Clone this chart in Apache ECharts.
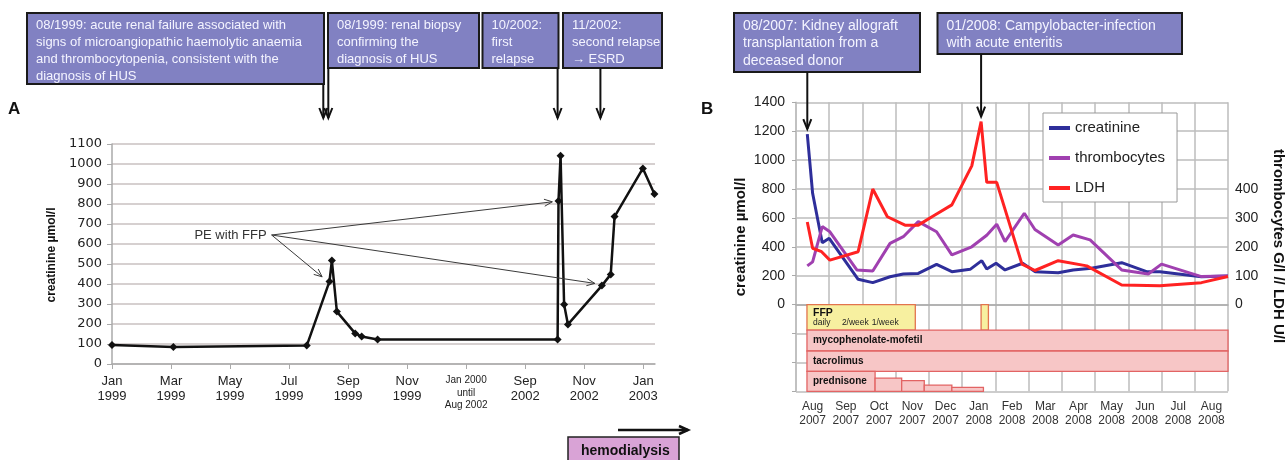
<!DOCTYPE html>
<html><head><meta charset="utf-8">
<script src="https://cdn.jsdelivr.net/npm/echarts@6/dist/echarts.min.js"></script>
<style>html,body{margin:0;padding:0;background:#fff}#c{width:1287px;height:460px}</style>
</head><body><div id="c"></div>
<script>
// ---------- Panel A data (x = months since Jan 1999, compressed gap Jan 2000 - Aug 2002) ----------
const aTickValues = [0, 2, 4, 6, 8, 10, 12, 14, 16, 18];
const aTickLabels = ['Jan\n1999', 'Mar\n1999', 'May\n1999', 'Jul\n1999', 'Sep\n1999', 'Nov\n1999', 'GAP', 'Sep\n2002', 'Nov\n2002', 'Jan\n2003'];
const aGapLabel = ['Jan 2000', 'until', 'Aug 2002'];
const aMonth = [0, 2.08, 6.6, 7.37, 7.45, 7.62, 8.24, 8.46, 9.0, 15.1, 15.13, 15.2, 15.32, 15.45, 16.6, 16.9, 17.03, 17.99, 18.38];
const aCreatinine = [95, 85, 92, 413, 517, 262, 153, 137, 123, 123, 815, 1041, 297, 198, 392, 448, 737, 978, 850];
const aEventMonths = [7.16, 7.33, 15.1, 16.55];
const aPeFrom = [5.41, 645];
const aPeTargets = [[7.12, 436], [14.92, 811], [16.36, 403]];

// ---------- Panel B data (x = months since start of Aug 2007) ----------
const bCategories = ['Aug\n2007', 'Sep\n2007', 'Oct\n2007', 'Nov\n2007', 'Dec\n2007', 'Jan\n2008', 'Feb\n2008', 'Mar\n2008', 'Apr\n2008', 'May\n2008', 'Jun\n2008', 'Jul\n2008', 'Aug\n2008'];
const creaX = [0.34, 0.5, 0.79, 1.0, 1.87, 2.31, 2.83, 3.23, 3.68, 4.23, 4.69, 5.24, 5.59, 5.74, 6.02, 6.29, 6.82, 7.2, 7.89, 8.34, 8.89, 9.8, 10.55, 10.95, 12.2, 13.0];
const creaV = [1180, 770, 428, 459, 175, 152, 193, 212, 216, 279, 228, 244, 304, 246, 286, 240, 286, 228, 221, 240, 251, 290, 228, 228, 193, 198];
const thrX = [0.34, 0.5, 0.79, 1.02, 1.83, 2.31, 2.83, 3.23, 3.68, 4.23, 4.69, 5.29, 5.74, 6.04, 6.29, 6.87, 7.19, 7.89, 8.34, 8.85, 9.8, 10.6, 11.0, 12.2, 13.0];
const thrV = [134, 148, 270, 252, 120, 116, 212, 235, 287, 252, 172, 200, 240, 278, 218, 316, 260, 206, 241, 224, 120, 106, 140, 97, 99];
const ldhX = [0.34, 0.5, 0.77, 1.02, 1.87, 2.31, 2.75, 3.28, 3.68, 4.18, 4.69, 5.29, 5.57, 5.74, 6.04, 6.8, 7.19, 7.89, 8.75, 9.8, 10.95, 12.2, 13.0];
const ldhV = [286, 195, 183, 154, 183, 400, 304, 275, 275, 310, 345, 480, 633, 423, 423, 140, 118, 152, 134, 68, 65, 76, 97];
const bEventSeries = [1, 3];          // series pointed by the two callouts
const bEventIndex = [0, 12];

// treatments: start month, end month, row, dose level (fraction of row height)
const treatName  = ['FFP', '', 'mycophenolate-mofetil', 'tacrolimus', 'prednisone', '', '', '', ''];
const treatStart = [0.33, 5.57, 0.33, 0.33, 0.33, 2.38, 3.18, 3.86, 4.69];
const treatEnd   = [3.59, 5.79, 13.0, 13.0, 2.38, 3.18, 3.86, 4.69, 5.64];
const treatRow   = [0, 0, 1, 2, 3, 3, 3, 3, 3];
const treatLevel = [1, 1, 1, 1, 1, 0.66, 0.54, 0.31, 0.2];
const ffpSchedule = ['daily', '2/week', '1/week'];
const ffpScheduleStart = [0.33, 1.2, 2.1];

const ROW_TOP = [0, -176, -321, -462];
const ROW_BOT = [-176, -321, -462, -600];

const SANS = '"Liberation Sans", Arial, sans-serif';
const chart = echarts.init(document.getElementById('c'), null, {renderer: 'canvas'});

const option = {
  animation: false,
  backgroundColor: '#fff',
  grid: [
    {left: 112, top: 144, width: 543, height: 220},
    {left: 796, top: 102.3, width: 432, height: 289}
  ],
  legend: {
    data: ['creatinine', 'thrombocytes', 'LDH'],
    orient: 'vertical', left: 1043, top: 113,
    padding: [7, 12, 6, 6], itemGap: 14, itemWidth: 21, itemHeight: 4, icon: 'rect',
    backgroundColor: '#fff', borderColor: '#999', borderWidth: 1,
    textStyle: {fontSize: 15, fontFamily: SANS, color: '#222', lineHeight: 16}
  },
  xAxis: [
    {
      type: 'value', gridIndex: 0, min: 0, max: 18.4, interval: 2,
      axisLine: {lineStyle: {color: '#aaa', width: 1.5}},
      axisTick: {show: true, length: 5, lineStyle: {color: '#aaa'}, customValues: aTickValues},
      splitLine: {show: false},
      axisLabel: {
        customValues: aTickValues, margin: 10, color: '#222', fontFamily: SANS, fontSize: 13, lineHeight: 15,
        formatter: function (v) {
          const i = aTickValues.indexOf(Math.round(v));
          if (i < 0) return '';
          if (aTickLabels[i] === 'GAP') return aGapLabel.map(s => '{g|' + s + '}').join('\n');
          return aTickLabels[i];
        },
        rich: {g: {fontSize: 10, lineHeight: 12.5, fontFamily: SANS, color: '#222'}}
      }
    },
    {
      type: 'category', gridIndex: 1, data: bCategories, boundaryGap: true,
      axisLine: {lineStyle: {color: '#aaa', width: 1.5}},
      axisTick: {show: false},
      splitLine: {show: true, interval: 0, lineStyle: {color: '#bdbdbd', width: 1.5}},
      axisLabel: {interval: 0, margin: 8, color: '#333', fontFamily: SANS, fontSize: 12, lineHeight: 14.5}
    },
    {type: 'value', gridIndex: 1, min: 0, max: 13, show: false}
  ],
  yAxis: [
    {
      type: 'value', gridIndex: 0, min: 0, max: 1100, interval: 100,
      axisLine: {show: true, lineStyle: {color: '#aaa', width: 1.5}},
      axisTick: {show: true, length: 5, lineStyle: {color: '#aaa'}},
      splitLine: {lineStyle: {color: '#c8c0c0', width: 1.5}},
      axisLabel: {margin: 10, color: '#222', fontFamily: '"DejaVu Sans", Verdana, sans-serif', fontSize: 13,
        formatter: v => String(v)}
    },
    {
      type: 'value', gridIndex: 1, position: 'left', min: -600, max: 1400, interval: 200,
      axisLine: {show: true, lineStyle: {color: '#bdbdbd', width: 1.5}},
      axisTick: {show: true, length: 4, lineStyle: {color: '#aaa'}},
      splitLine: {lineStyle: {color: '#bdbdbd', width: 1.5}},
      axisLabel: {margin: 11, color: '#222', fontFamily: SANS, fontSize: 14,
        formatter: v => (v >= 0 ? String(v) : '')}
    },
    {
      type: 'value', gridIndex: 1, position: 'right', min: -300, max: 700, interval: 100,
      axisLine: {show: false}, axisTick: {show: false}, splitLine: {show: false},
      axisLabel: {margin: 7, color: '#222', fontFamily: SANS, fontSize: 14,
        formatter: v => (v >= 0 && v <= 400 ? String(v) : '')}
    }
  ],
  series: [
    {
      name: 'creatinine (A)', type: 'line', xAxisIndex: 0, yAxisIndex: 0,
      data: aMonth.map((m, i) => [m, aCreatinine[i]]),
      symbol: 'diamond', symbolSize: 8, showSymbol: true,
      itemStyle: {color: '#111'}, lineStyle: {color: '#111', width: 2.5}, z: 5
    },
    {
      name: 'creatinine', type: 'line', xAxisIndex: 2, yAxisIndex: 1,
      data: creaX.map((m, i) => [m, creaV[i]]), showSymbol: false, symbol: 'none',
      itemStyle: {color: '#2e2e9a'}, lineStyle: {color: '#2e2e9a', width: 3}, z: 5
    },
    {
      name: 'thrombocytes', type: 'line', xAxisIndex: 2, yAxisIndex: 2,
      data: thrX.map((m, i) => [m, thrV[i]]), showSymbol: false, symbol: 'none',
      itemStyle: {color: '#a040b0'}, lineStyle: {color: '#a040b0', width: 3}, z: 5
    },
    {
      name: 'LDH', type: 'line', xAxisIndex: 2, yAxisIndex: 2,
      data: ldhX.map((m, i) => [m, ldhV[i]]), showSymbol: false, symbol: 'none',
      itemStyle: {color: '#ff2222'}, lineStyle: {color: '#ff2222', width: 3}, z: 6
    },
    {
      name: 'treatments', type: 'custom', xAxisIndex: 2, yAxisIndex: 1, z: 4,
      data: treatStart.map((s, i) => [s, treatEnd[i], treatRow[i], treatLevel[i]]),
      renderItem: function (params, api) {
        const i = params.dataIndex;
        const row = api.value(2), lvl = api.value(3);
        const top = ROW_TOP[row], bot = ROW_BOT[row];
        const yTop = bot + (top - bot) * lvl;
        const a = api.coord([api.value(0), yTop]);
        const b = api.coord([api.value(1), bot]);
        const isFFP = row === 0;
        const children = [{
          type: 'rect',
          shape: {x: a[0], y: a[1], width: b[0] - a[0], height: b[1] - a[1]},
          style: {fill: isFFP ? '#f7f0a0' : '#f7c6c6', stroke: isFFP ? '#e2744e' : '#e26464', lineWidth: 1.3}
        }];
        const name = treatName[i];
        if (name) {
          const ty = isFFP ? a[1] + 8.5 : (a[1] + b[1]) / 2;
          children.push({type: 'text', style: {text: name, x: a[0] + 6, y: ty, fill: '#111',
            font: 'bold ' + (isFFP ? 10.5 : 10) + 'px ' + SANS, verticalAlign: 'middle', textVerticalAlign: 'middle'}});
        }
        if (isFFP && i === 0) {
          ffpSchedule.forEach(function (s, k) {
            const p = api.coord([ffpScheduleStart[k], top]);
            children.push({type: 'text', style: {text: s, x: p[0] + 6, y: a[1] + 18.5, fill: '#222',
              font: '8.5px ' + SANS, verticalAlign: 'middle', textVerticalAlign: 'middle'}});
          });
        }
        return {type: 'group', children: children};
      }
    }
  ]
};
chart.setOption(option);

// ---------- annotations ----------
function arrow(x1, y1, x2, y2, color, width, head, half) {
  const dx = x2 - x1, dy = y2 - y1, L = Math.hypot(dx, dy), ux = dx / L, uy = dy / L;
  const bx = x2 - ux * head, by = y2 - uy * head;
  return [
    {type: 'line', z: 50, shape: {x1: x1, y1: y1, x2: x2, y2: y2}, style: {stroke: color, lineWidth: width}},
    {type: 'polyline', z: 50, shape: {points: [[bx - uy * half, by + ux * half], [x2, y2], [bx + uy * half, by - ux * half]]},
      style: {stroke: color, lineWidth: width, fill: null}}
  ];
}
function box(x, y, w, h, lines, fontSize, lh, fill, textColor, bold) {
  return [
    {type: 'rect', z: 40, shape: {x: x, y: y, width: w, height: h}, style: {fill: fill, stroke: '#1a1a1a', lineWidth: 2}},
    {type: 'text', z: 41, style: {text: lines.join('\n'), x: x + 9, y: y + 4, fill: textColor, lineHeight: lh,
      font: (bold ? 'bold ' : '') + fontSize + 'px ' + SANS, verticalAlign: 'top', textVerticalAlign: 'top'}}
  ];
}
function vtext(text, x, y, rot, font) {
  return {type: 'text', z: 30, x: x, y: y, rotation: rot,
    style: {text: text, x: 0, y: 0, font: font, fill: '#111', align: 'center', textAlign: 'center', verticalAlign: 'middle', textVerticalAlign: 'middle'}};
}
const PURPLE = '#8181c2', TXT = '#f4f4ff';
let g = [];
// panel letters
g.push({type: 'text', z: 30, style: {text: 'A', x: 8, y: 101, font: 'bold 17px ' + SANS, fill: '#111'}});
g.push({type: 'text', z: 30, style: {text: 'B', x: 701, y: 101, font: 'bold 17px ' + SANS, fill: '#111'}});
// axis titles
g.push(vtext('creatinine µmol/l', 52, 255, Math.PI / 2, 'bold 12px ' + SANS));
g.push(vtext('creatinine µmol/l', 741, 237, Math.PI / 2, 'bold 15px ' + SANS));
g.push(vtext('thrombocytes G/l // LDH U/l', 1278, 246, -Math.PI / 2, 'bold 15px ' + SANS));

// panel A callouts
g = g.concat(box(27, 13, 297, 71, ['08/1999: acute renal failure associated with', 'signs of microangiopathic haemolytic anaemia', 'and thrombocytopenia, consistent with the', 'diagnosis of HUS'], 13, 17, PURPLE, TXT));
g = g.concat(box(328, 13, 151, 55, ['08/1999: renal biopsy', 'confirming the', 'diagnosis of HUS'], 13, 17, PURPLE, TXT));
g = g.concat(box(482.5, 13, 76, 55, ['10/2002:', 'first', 'relapse'], 13, 17, PURPLE, TXT));
g = g.concat(box(563, 13, 99, 55, ['11/2002:', 'second relapse', '\u2192 ESRD'], 13, 17, PURPLE, TXT));
const aBoxBottoms = [84, 68, 68, 68];
aEventMonths.forEach(function (m, k) {
  const p = chart.convertToPixel({seriesIndex: 0}, [m, 1100]);
  g = g.concat(arrow(p[0], aBoxBottoms[k], p[0], 118, '#111', 2, 10, 4));
});
// PE with FFP
const peP = chart.convertToPixel({seriesIndex: 0}, aPeFrom);
g.push({type: 'text', z: 45, style: {text: 'PE with FFP', x: peP[0] - 5, y: peP[1], fill: '#333', font: '13px ' + SANS,
  align: 'right', textAlign: 'right', verticalAlign: 'middle', textVerticalAlign: 'middle'}});
aPeTargets.forEach(function (t) {
  const q = chart.convertToPixel({seriesIndex: 0}, t);
  g = g.concat(arrow(peP[0], peP[1], q[0], q[1], '#3a3a3a', 1, 8, 3.5));
});
// hemodialysis
g.push({type: 'rect', z: 40, shape: {x: 568, y: 437, width: 111, height: 30}, style: {fill: '#d9a3d6', stroke: '#222', lineWidth: 1.5}});
g.push({type: 'text', z: 41, style: {text: 'hemodialysis', x: 581, y: 451, font: 'bold 14px ' + SANS, fill: '#111', verticalAlign: 'middle', textVerticalAlign: 'middle'}});
g = g.concat(arrow(618, 430, 688, 430, '#111', 2.5, 9, 4));

// panel B callouts
g = g.concat(box(734, 13, 186, 59, ['08/2007: Kidney allograft', 'transplantation from a', 'deceased donor'], 14, 17.5, PURPLE, TXT));
g = g.concat(box(937.5, 13, 244.5, 41, ['01/2008: Campylobacter-infection', 'with acute enteritis'], 14, 17.5, PURPLE, TXT));
const bBoxBottoms = [72, 54];
bEventSeries.forEach(function (s, k) {
  const src = s === 1 ? [creaX, creaV] : [ldhX, ldhV];
  const p = chart.convertToPixel({seriesIndex: s}, [src[0][bEventIndex[k]], src[1][bEventIndex[k]]]);
  g = g.concat(arrow(p[0], bBoxBottoms[k], p[0], p[1] - 5, '#111', 2, 10, 4));
});

chart.setOption({graphic: {elements: g}});
</script></body></html>
